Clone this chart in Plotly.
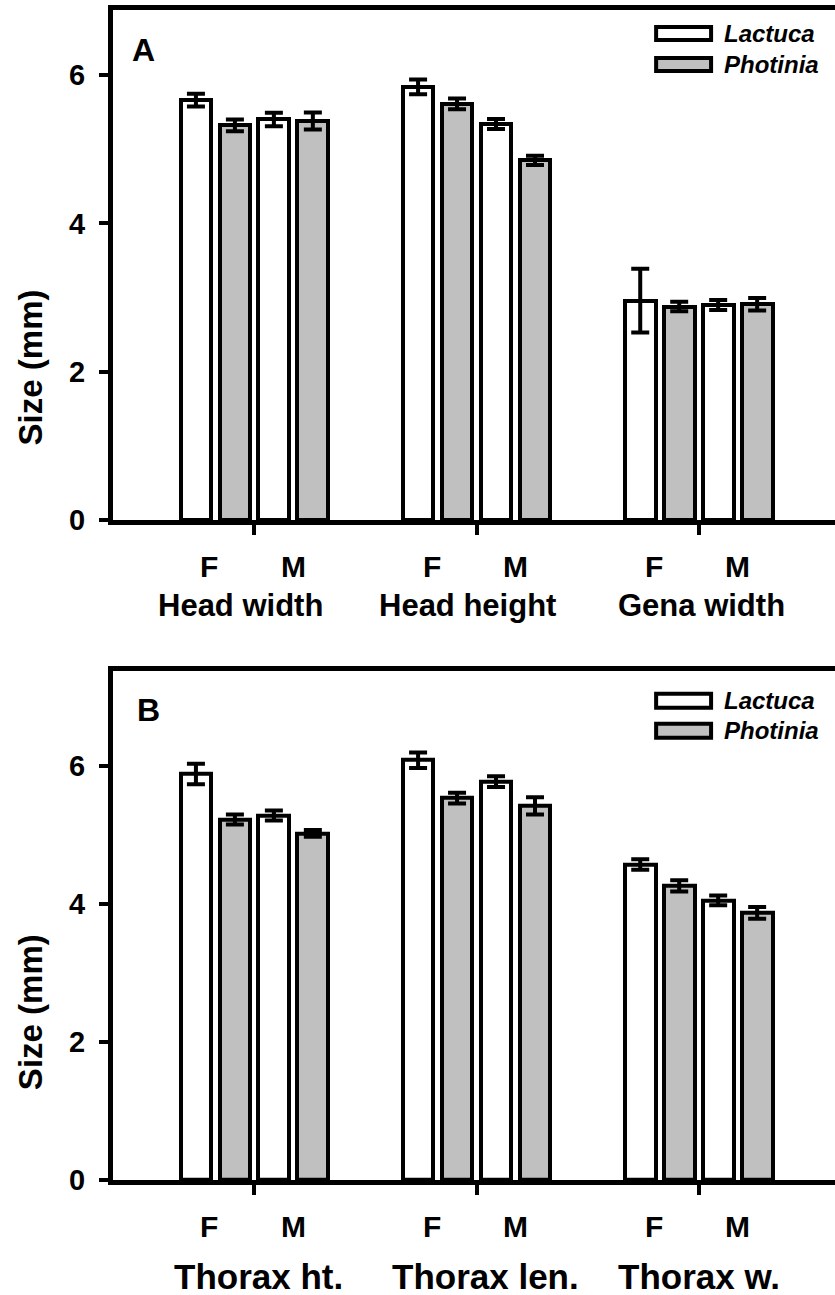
import plotly.graph_objects as go

# ---------------- data ----------------
groups_a = ["Head width", "Head height", "Gena width"]
groups_b = ["Thorax ht.", "Thorax len.", "Thorax w."]
sexes = ["F", "M"]
series_names = ["Lactuca", "Photinia"]

# values ordered [g1 F, g1 M, g2 F, g2 M, g3 F, g3 M]
a_lactuca = [5.66, 5.40, 5.84, 5.34, 2.96, 2.90]
a_lactuca_se = [0.085, 0.09, 0.10, 0.067, 0.43, 0.067]
a_photinia = [5.32, 5.38, 5.61, 4.85, 2.88, 2.91]
a_photinia_se = [0.08, 0.115, 0.072, 0.063, 0.063, 0.085]

b_lactuca = [5.88, 5.28, 6.08, 5.77, 4.57, 4.05]
b_lactuca_se = [0.147, 0.072, 0.113, 0.077, 0.077, 0.072]
b_photinia = [5.22, 5.02, 5.53, 5.42, 4.26, 3.87]
b_photinia_se = [0.072, 0.05, 0.077, 0.125, 0.08, 0.085]

y_ticks = [0, 2, 4, 6]

# ---------------- layout constants (pixels) ----------------
W_FIG, H_FIG = 835, 1295
L, R = 112.5, 0
T, B = 10, 114.5
PLOT_W = W_FIG - L - R
PLOT_H = H_FIG - T - B
A_TOP, A_BOT = 10, 520.5
B_TOP, B_BOT = 671, 1180.5

GROUP_STEP = 5.7
BAR_W = 0.79
X_RANGE = [-2.128, -2.128 + PLOT_W / 39.0]
FONT = "Liberation Sans, Arial, sans-serif"
GRAY = "#c0c0c0"
LABEL_SHIFT_A = [-14, -9, 3]
LABEL_SHIFT_B = [4, 9, 0]


def dom_a(y0, y1):
    return [(H_FIG - B - y1) / PLOT_H, (H_FIG - B - y0) / PLOT_H]


def px_x(px):
    return (px - L) / PLOT_W


def px_y(py, top, bot):
    return 1 - (py - top) / (bot - top)


def positions(series_idx):
    return [g * GROUP_STEP + 2 * s + series_idx for g in range(3) for s in range(2)]


group_centers = [g * GROUP_STEP + 1.5 for g in range(3)]

fig = go.Figure()

panels = [
    ("x", "y", a_lactuca, a_lactuca_se, a_photinia, a_photinia_se),
    ("x2", "y2", b_lactuca, b_lactuca_se, b_photinia, b_photinia_se),
]
for xa, ya, lac, lac_se, pho, pho_se in panels:
    for si, (vals, errs, fill) in enumerate([(lac, lac_se, "white"), (pho, pho_se, GRAY)]):
        fig.add_trace(go.Bar(
            x=positions(si), y=vals, width=BAR_W, xaxis=xa, yaxis=ya,
            name=series_names[si], showlegend=False,
            marker=dict(color=fill, line=dict(color="black", width=4)),
            error_y=dict(type="data", array=errs, visible=True, color="black",
                         thickness=4, width=9),
        ))

axis_common_x = dict(
    range=X_RANGE, showline=True, linewidth=5, linecolor="black", mirror=True,
    ticks="outside", ticklen=10, tickwidth=4, tickcolor="black",
    tickvals=group_centers, showticklabels=False, showgrid=False, zeroline=False,
    fixedrange=True,
)
axis_common_y = dict(
    showline=True, linewidth=5, linecolor="black", mirror=False,
    ticks="outside", ticklen=9, tickwidth=4, tickcolor="black",
    tickvals=y_ticks, showgrid=False, zeroline=False,
    tickfont=dict(family=FONT, size=29, color="black", weight="bold"),
    ticklabelstandoff=8,
)

fig.update_layout(
    width=W_FIG, height=H_FIG,
    margin=dict(l=L, r=R, t=T, b=B, autoexpand=False),
    paper_bgcolor="white", plot_bgcolor="white",
    showlegend=False, bargap=0,
    xaxis=dict(domain=[0, 1], anchor="y", **axis_common_x),
    yaxis=dict(domain=dom_a(A_TOP, A_BOT), anchor="x", range=[0, 6.875], **axis_common_y),
    xaxis2=dict(domain=[0, 1], anchor="y2", **axis_common_x),
    yaxis2=dict(domain=dom_a(B_TOP, B_BOT), anchor="x2", range=[0, 7.376], **axis_common_y),
)

annotations = []
shapes = []
panel_info = [
    ("x", "y", groups_a, LABEL_SHIFT_A, 31, -85.5, "A", 130, 50, A_TOP, A_BOT,
     (25, 42), (56, 73), 33.5, 64.5, 368),
    ("x2", "y2", groups_b, LABEL_SHIFT_B, 35, -96.5, "B", 135, 710, B_TOP, B_BOT,
     (692, 710), (722, 740), 701, 731, 1013),
]
for (xa, ya, groups, shifts, gsize, gshift, letter, lx, ly, top, bot,
     sw1, sw2, t1, t2, title_y) in panel_info:
    for g, name in enumerate(groups):
        for s, sx in enumerate(sexes):
            annotations.append(dict(
                x=g * GROUP_STEP + 2 * s + 0.5, y=0, xref=xa, yref=ya,
                text=sx, showarrow=False, yshift=-46.5, xshift=-6 if s == 0 else 0,
                xanchor="center", yanchor="middle",
                font=dict(family=FONT, size=30, color="black", weight="bold"),
            ))
        annotations.append(dict(
            x=group_centers[g], y=0, xref=xa, yref=ya, text=name, showarrow=False,
            yshift=gshift, xshift=shifts[g], xanchor="center", yanchor="middle",
            font=dict(family=FONT, size=gsize, color="black", weight="bold"),
        ))
    # panel letter
    annotations.append(dict(
        x=px_x(lx), y=px_y(ly, top, bot), xref=xa + " domain", yref=ya + " domain",
        text=letter, showarrow=False, xanchor="left", yanchor="middle",
        font=dict(family=FONT, size=32, color="black", weight="bold"),
    ))
    # y-axis title
    annotations.append(dict(
        x=(30 - L) / PLOT_W, y=(H_FIG - B - title_y) / PLOT_H, xref="paper", yref="paper",
        text="Size (mm)", showarrow=False, textangle=-90,
        xanchor="center", yanchor="middle",
        font=dict(family=FONT, size=33, color="black", weight="bold"),
    ))
    # legend
    for (y0, y1), ty, fill, nm in [(sw1, t1, "white", series_names[0]),
                                    (sw2, t2, GRAY, series_names[1])]:
        shapes.append(dict(
            type="rect", xref=xa + " domain", yref=ya + " domain",
            x0=px_x(656), x1=px_x(711),
            y0=px_y(y0 + 2, top, bot), y1=px_y(y1 - 2, top, bot),
            fillcolor=fill, line=dict(color="black", width=4),
        ))
        annotations.append(dict(
            x=px_x(722), y=px_y(ty, top, bot), xref=xa + " domain", yref=ya + " domain",
            text="<i>" + nm + "</i>", showarrow=False, xanchor="left", yanchor="middle",
            font=dict(family=FONT, size=24, color="black", weight="bold"),
        ))

fig.update_layout(annotations=annotations, shapes=shapes)

fig.write_html("out.html")
